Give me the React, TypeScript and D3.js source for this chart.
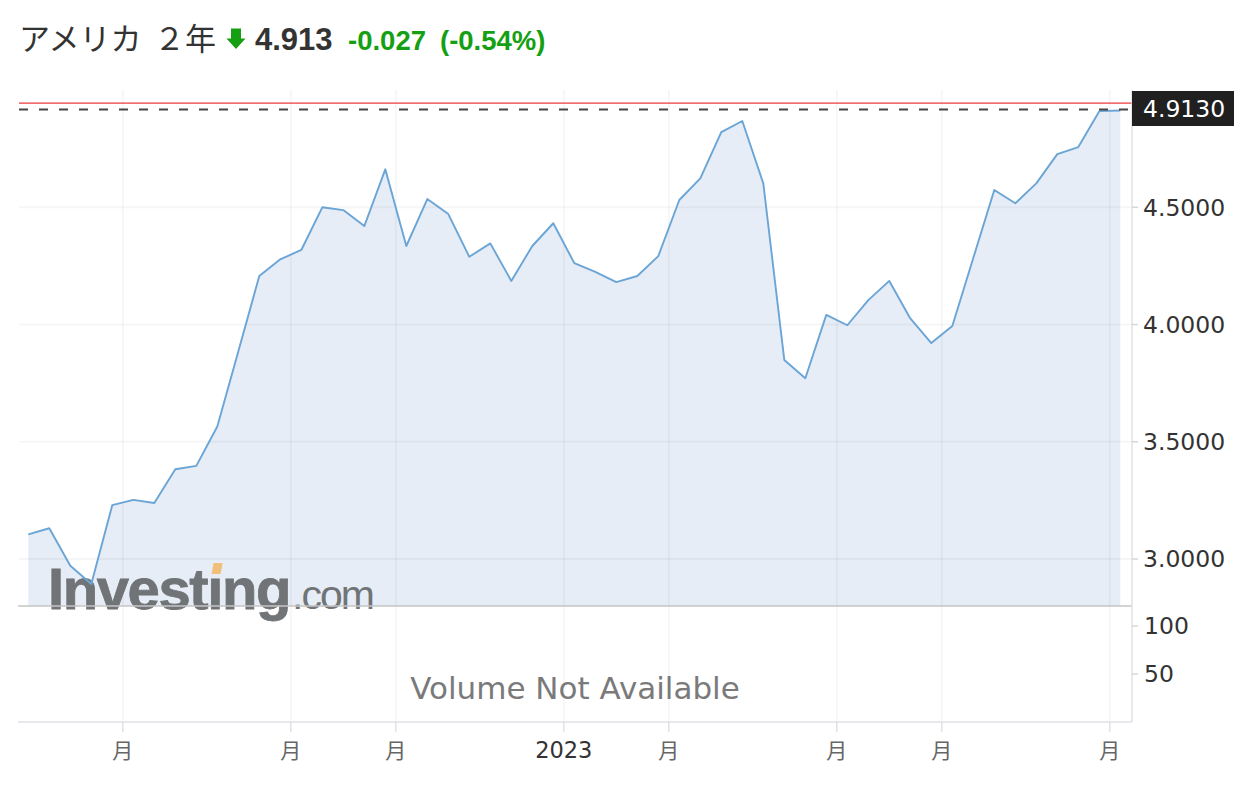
import React, { useLayoutEffect, useRef, useState } from "react";
import * as d3 from "d3";

// weekly closes (index 0..52)
const values = [
  3.105, 3.131, 2.971, 2.893, 3.23, 3.252, 3.239, 3.383, 3.397, 3.565, 3.885,
  4.207, 4.278, 4.318, 4.5, 4.488, 4.42, 4.662, 4.335, 4.535, 4.471, 4.289,
  4.346, 4.186, 4.335, 4.432, 4.262, 4.225, 4.181, 4.207, 4.292, 4.531, 4.623,
  4.821, 4.868, 4.602, 3.849, 3.771, 4.041, 3.997, 4.104, 4.186, 4.026, 3.921,
  3.994, 4.284, 4.574, 4.517, 4.602, 4.727, 4.757, 4.91, 4.913,
];
const xTickIdx = [4.5, 12.5, 17.5, 25.5, 30.5, 38.5, 43.5, 51.5];
const xTickLabels = ["月", "月", "月", "2023", "月", "月", "月", "月"];
const yTicks = [3.0, 3.5, 4.0, 4.5];
const volTicks = [50, 100];
const lastValue = 4.913;
const prevClose = 4.94;
const titleA = "アメリカ";
const titleB = "２年";
const priceText = "4.913";
const changeText = "-0.027";
const pctText = "(-0.54%)";

const W = 1252;
const H = 786;
const LEFT = 19;
const RIGHT = 1132;
const TOP = 90;
const PANE_BOTTOM = 606;
const AXIS_Y = 722;

const GREEN = "#159f12";
const AXISFONT = "'DejaVu Sans', sans-serif";
const HY = 49.5; // header baseline

export default function App() {
  const x = d3.scaleLinear().domain([0, values.length - 1]).range([28.3, 1120.3]);
  const y = d3.scaleLinear().domain([3, 4.5]).range([559, 207.3]);
  const yv = d3.scaleLinear().domain([0, 100]).range([AXIS_Y, 626]);

  const line = d3
    .line<number>()
    .x((_, i) => x(i))
    .y((d) => y(d));
  const area = d3
    .area<number>()
    .x((_, i) => x(i))
    .y0(PANE_BOTTOM)
    .y1((d) => y(d));

  const wmRef = useRef<SVGTextElement>(null);
  const [dot, setDot] = useState<{ x: number; w: number } | null>(null);
  useLayoutEffect(() => {
    const el = wmRef.current;
    if (el) {
      try {
        const ext = el.getExtentOfChar(6);
        setDot({ x: ext.x, w: ext.width });
      } catch (e) {}
    }
  }, []);

  return (
    <div style={{ position: "absolute", left: 0, top: 0 }}>
      <svg width={W} height={H} style={{ display: "block", background: "#fff" }}>
        {/* header */}
        <text x={19} y={HY} fontFamily="'Noto Sans CJK JP', sans-serif" fontSize={31} fill="#333">
          {titleA}
        </text>
        <text x={154} y={HY} fontFamily="'Noto Sans CJK JP', sans-serif" fontSize={31} fill="#333">
          {titleB}
        </text>
        <path
          d={`M231,${HY - 21} H241 V${HY - 11} H245.5 L236,${HY - 0.5} L226.5,${HY - 11} H231 Z`}
          fill={GREEN}
        />
        <text x={255} y={HY} fontFamily="'Liberation Sans', Arial, sans-serif" fontWeight="bold" fontSize={31} fill="#333">
          {priceText}
        </text>
        <text x={348} y={HY} fontFamily="'Liberation Sans', Arial, sans-serif" fontWeight="bold" fontSize={27.5} fill={GREEN}>
          {changeText}
        </text>
        <text x={440} y={HY} fontFamily="'Liberation Sans', Arial, sans-serif" fontWeight="bold" fontSize={27.5} fill={GREEN}>
          {pctText}
        </text>

        {/* area */}
        <path d={area(values) || ""} fill="#e6edf6" />

        {/* vertical grid */}
        {xTickIdx.map((t, i) => (
          <line key={"vg" + i} x1={x(t)} x2={x(t)} y1={TOP} y2={AXIS_Y} stroke="#000" strokeOpacity={0.035} strokeWidth={2} />
        ))}
        {/* horizontal grid */}
        {yTicks.map((t, i) => (
          <line key={"hg" + i} x1={LEFT} x2={RIGHT} y1={y(t)} y2={y(t)} stroke="#000" strokeOpacity={0.035} strokeWidth={2} />
        ))}

        {/* watermark */}
        <g opacity={0.95}>
          <text
            ref={wmRef}
            x={48}
            y={609}
            fontFamily="'Liberation Sans', Arial, sans-serif"
            fontWeight="bold"
            fontSize={58}
            letterSpacing={-1.4}
            fill="#6a6e70"
            stroke="#6a6e70"
            strokeWidth={0.8}
          >
            {"Investıng"}
          </text>
          <text
            x={292}
            y={609}
            fontFamily="'Liberation Sans', Arial, sans-serif"
            fontSize={41}
            letterSpacing={-2}
            fill="#6a6e70"
          >
            .com
          </text>
          {dot && (
            <path
              d={`M${dot.x + dot.w / 2 - 3},${574} L${dot.x + dot.w / 2 + 6},${574} L${dot.x + dot.w / 2 + 8},${563} L${dot.x + dot.w / 2 - 1},${563} Z`}
              fill="#f3bd74"
            />
          )}
        </g>

        <path d={line(values) || ""} fill="none" stroke="#6aa5d6" strokeWidth={1.9} strokeLinejoin="round" />

        {/* reference lines */}
        <line x1={LEFT} x2={RIGHT} y1={y(prevClose) - 1} y2={y(prevClose) - 1} stroke="#ee3b3b" strokeWidth={1.3} />
        <line x1={LEFT} x2={RIGHT} y1={y(lastValue) - 1} y2={y(lastValue) - 1} stroke="#444" strokeWidth={2} strokeDasharray="9 11" />

        {/* pane separator */}
        <line x1={18} x2={RIGHT} y1={PANE_BOTTOM} y2={PANE_BOTTOM} stroke="#c4c4c4" strokeWidth={1.5} />

        {/* axes */}
        <line x1={RIGHT} x2={RIGHT} y1={TOP} y2={AXIS_Y} stroke="#dfe2e7" strokeWidth={1.5} />
        <line x1={18} x2={RIGHT} y1={AXIS_Y} y2={AXIS_Y} stroke="#dfe2e7" strokeWidth={1.5} />

        {yTicks.map((t, i) => (
          <g key={"yt" + i}>
            <line x1={RIGHT} x2={RIGHT + 6} y1={y(t)} y2={y(t)} stroke="#d3d7dd" strokeWidth={1.5} />
            <text x={1143} y={y(t)} dy="0.36em" fontFamily={AXISFONT} fontSize={23.5} fill="#333">
              {d3.format(".4f")(t)}
            </text>
          </g>
        ))}
        {volTicks.map((t, i) => (
          <g key={"vt" + i}>
            <line x1={RIGHT} x2={RIGHT + 6} y1={yv(t)} y2={yv(t)} stroke="#d3d7dd" strokeWidth={1.5} />
            <text x={1144} y={yv(t)} dy="0.36em" fontFamily={AXISFONT} fontSize={23.5} fill="#333">
              {String(t)}
            </text>
          </g>
        ))}

        {xTickIdx.map((t, i) => (
          <g key={"xt" + i}>
            <line x1={x(t)} x2={x(t)} y1={AXIS_Y} y2={AXIS_Y + 10} stroke="#dfe2e7" strokeWidth={1.5} />
            <text
              x={x(t)}
              y={758}
              textAnchor="middle"
              fontFamily={xTickLabels[i] === "月" ? "'Noto Sans CJK JP', sans-serif" : AXISFONT}
              fontSize={xTickLabels[i] === "月" ? 21 : 22.5}
              fill={xTickLabels[i] === "月" ? "#666" : "#333"}
            >
              {xTickLabels[i]}
            </text>
          </g>
        ))}

        {/* last value label */}
        <rect x={1132} y={91} width={102} height={35} fill="#202020" />
        <text x={1143} y={y(lastValue) - 1.5} dy="0.36em" fontFamily={AXISFONT} fontSize={23.5} fill="#fff">
          {d3.format(".4f")(lastValue)}
        </text>

        <text x={575} y={699} textAnchor="middle" fontFamily={AXISFONT} fontSize={31} fill="#7a7a7a">
          Volume Not Available
        </text>
      </svg>
    </div>
  );
}
